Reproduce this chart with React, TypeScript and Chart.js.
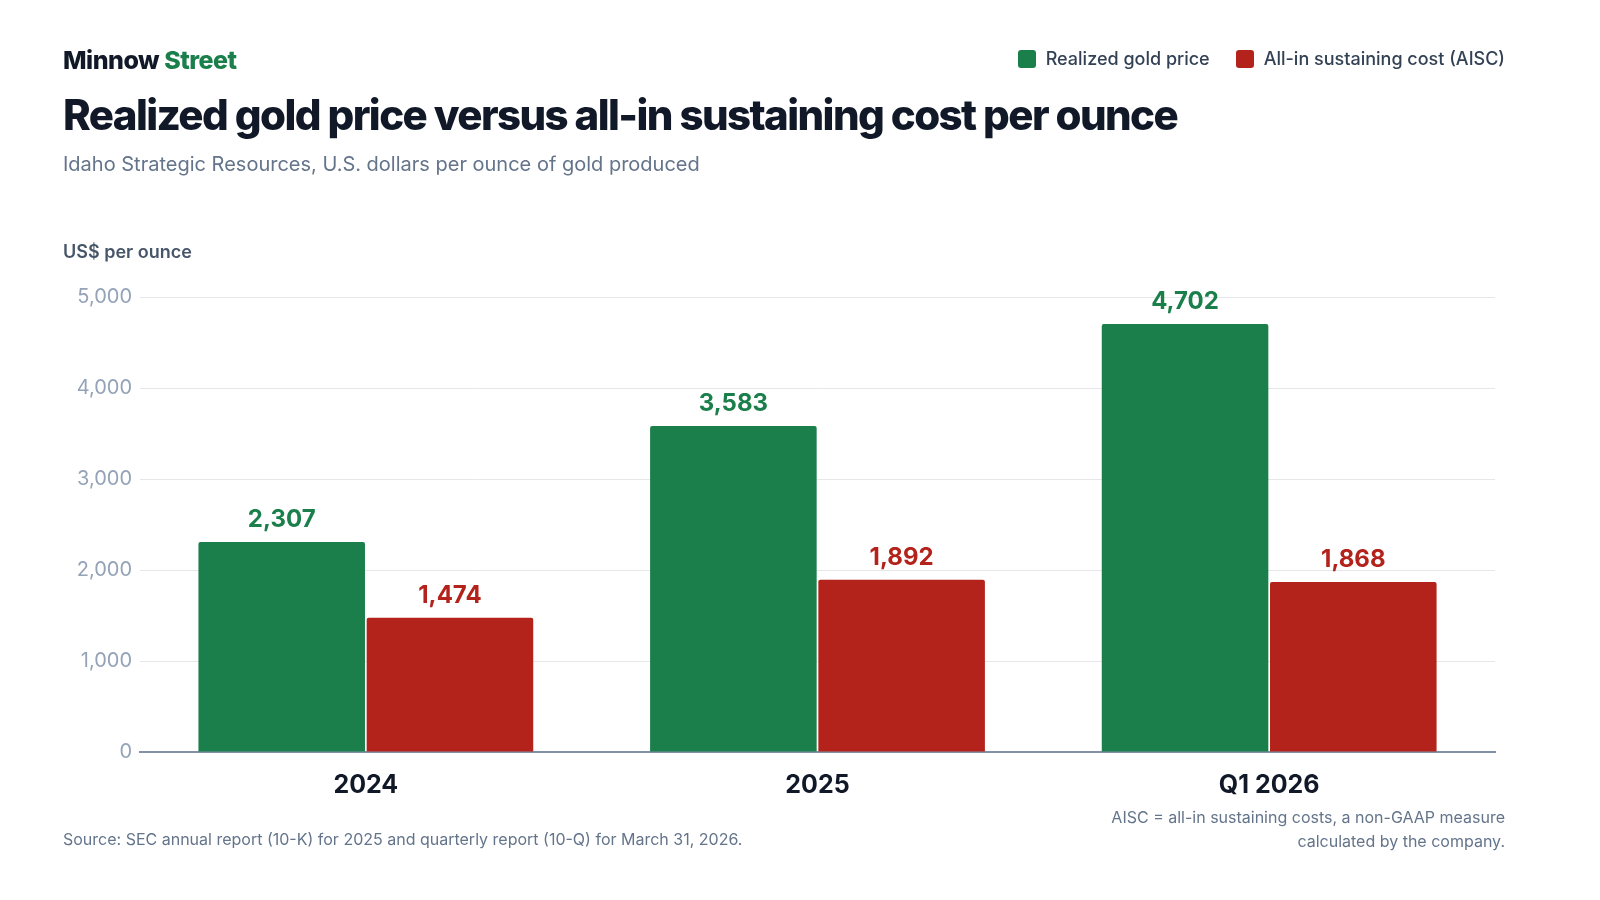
import React, { useRef, useEffect } from "react";
import Chart from "chart.js/auto";

const categories = ["2024", "2025", "Q1 2026"];
const goldPrice = [2307, 3583, 4702];
const aisc = [1474, 1892, 1868];
const yTicks = [0, 1000, 2000, 3000, 4000, 5000];

const GREEN = "#1b7f4b";
const RED = "#b3231b";
const FONT = "Inter, 'Noto Sans', sans-serif";

const valueLabels = {
  id: "valueLabels",
  afterDatasetsDraw(chart: any) {
    const ctx = chart.ctx;
    ctx.save();
    ctx.font = `700 24px ${FONT}`;
    ctx.textAlign = "center";
    ctx.textBaseline = "bottom";
    chart.data.datasets.forEach((ds: any, i: number) => {
      const meta = chart.getDatasetMeta(i);
      ctx.fillStyle = ds.backgroundColor;
      meta.data.forEach((bar: any, j: number) => {
        ctx.fillText(ds.data[j].toLocaleString("en-US"), bar.x, bar.y - 10);
      });
    });
    ctx.restore();
  },
};

const App: React.FC = () => {
  const chartRef = useRef<HTMLCanvasElement>(null);

  useEffect(() => {
    document.body.style.margin = "0";
    if (!chartRef.current) return;
    const chart = new Chart(chartRef.current, {
      type: "bar",
      data: {
        labels: categories,
        datasets: [
          { label: "Realized gold price", data: goldPrice, backgroundColor: GREEN, borderRadius: 2, borderSkipped: "bottom" },
          { label: "All-in sustaining cost (AISC)", data: aisc, backgroundColor: RED, borderRadius: 2, borderSkipped: "bottom" },
        ],
      },
      plugins: [valueLabels],
      options: {
        animation: false,
        responsive: false,
        layout: { padding: { left: 55, right: 105, top: 297, bottom: 88 } },
        datasets: { bar: { categoryPercentage: 0.745, barPercentage: 0.99 } },
        plugins: { legend: { display: false }, tooltip: { enabled: false } },
        scales: {
          x: {
            grid: { display: false },
            border: { color: "#8391a7", width: 2 },
            ticks: { color: "#111827", font: { family: FONT, size: 25, weight: 700 }, padding: 10 },
            afterFit: (s: any) => { s.height = 60; },
          },
          y: {
            min: 0,
            max: 5000,
            afterBuildTicks: (s: any) => { s.ticks = yTicks.map((v) => ({ value: v })); },
            grid: { color: "#e5e7eb", drawTicks: false },
            border: { display: false },
            ticks: {
              color: "#94a3b8",
              font: { family: FONT, size: 20 },
              padding: 8,
              callback: (v: any) => Number(v).toLocaleString("en-US"),
            },
            afterFit: (s: any) => { s.width = 85; },
          },
        },
      },
    });
    return () => chart.destroy();
  }, []);

  const text = (style: React.CSSProperties, children: React.ReactNode) => (
    <div style={{ position: "absolute", fontFamily: FONT, whiteSpace: "nowrap", ...style }}>{children}</div>
  );

  return (
    <div style={{ position: "relative", width: 1600, height: 900, background: "#fff", overflow: "hidden" }}>
      <canvas ref={chartRef} width={1600} height={900} style={{ position: "absolute", left: 0, top: 0 }} />
      {text({ left: 63, top: 45, fontSize: 25, fontWeight: 800, color: "#111827", letterSpacing: -0.5 },
        <>Minnow <span style={{ color: GREEN }}>Street</span></>)}
      {text({ left: 63, top: 89, fontSize: 42, fontWeight: 800, color: "#111827", letterSpacing: -1.6 },
        "Realized gold price versus all-in sustaining cost per ounce")}
      {text({ left: 63, top: 152, fontSize: 20, color: "#64748b" },
        "Idaho Strategic Resources, U.S. dollars per ounce of gold produced")}
      {text({ left: 63, top: 241, fontSize: 18, fontWeight: 600, color: "#475569" }, "US$ per ounce")}
      <div style={{ position: "absolute", right: 95, top: 48, display: "flex", alignItems: "center", gap: 10, fontFamily: FONT, fontSize: 18, color: "#334155", fontWeight: 500 }}>
        <span style={{ width: 18, height: 18, background: GREEN, borderRadius: 3 }} />
        <span style={{ marginRight: 16 }}>Realized gold price</span>
        <span style={{ width: 18, height: 18, background: RED, borderRadius: 3 }} />
        <span>All-in sustaining cost (AISC)</span>
      </div>
      {text({ left: 63, top: 829, fontSize: 16, color: "#64748b" },
        "Source: SEC annual report (10-K) for 2025 and quarterly report (10-Q) for March 31, 2026.")}
      {text({ right: 95, top: 805, fontSize: 16, color: "#64748b", textAlign: "right", lineHeight: "24px" },
        <>AISC = all-in sustaining costs, a non-GAAP measure<br />calculated by the company.</>)}
    </div>
  );
};

export default App;
